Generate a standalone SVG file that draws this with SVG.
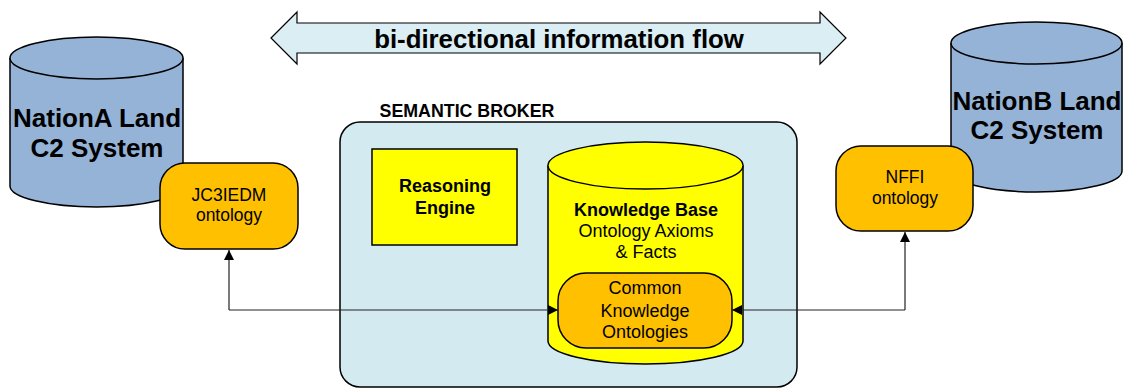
<svg xmlns="http://www.w3.org/2000/svg" width="1124" height="388" viewBox="0 0 1124 388">
<style>
text{font-family:"Liberation Sans",Arial,sans-serif;fill:#000;text-anchor:middle}
.b{font-weight:bold}
.sys{fill:#95B3D7;stroke:#000;stroke-width:1.5}
.ont{fill:#FFC000;stroke:#000;stroke-width:1.5}
.yel{fill:#FFFF00;stroke:#000;stroke-width:1.5}
.conn{fill:none;stroke:#222;stroke-width:1.2}
</style>
<defs>
<marker id="ah" viewBox="0 0 10 10" refX="10" refY="5" markerWidth="10" markerHeight="10" markerUnits="userSpaceOnUse" orient="auto">
<path d="M0,0 L10,5 L0,10 Z" fill="#000"/>
</marker>
</defs>
<g id="flow-arrow">
<path d="M271,38 L297,12 L297,23 L820,23 L820,12 L846,38 L820,64 L820,53 L297,53 L297,64 Z" fill="#DAEEF3" stroke="#000" stroke-width="1.2"/>
<text x="559" y="48" class="b" font-size="25.8">bi-directional information flow</text>
</g>
<g id="nationA">
<path class="sys" d="M10,58 A86.5,21 0 0,1 183,58 L183,186 A86.5,21 0 0,1 10,186 Z"/>
<path class="sys" fill="none" d="M10,58 A86.5,21 0 0,0 183,58"/>
<text x="97" y="127" class="b" font-size="26">NationA Land</text>
<text x="97" y="157" class="b" font-size="26">C2 System</text>
</g>
<g id="nationB">
<path class="sys" d="M951,43 A85.5,21 0 0,1 1122,43 L1122,171 A85.5,21 0 0,1 951,171 Z"/>
<path class="sys" fill="none" d="M951,43 A85.5,21 0 0,0 1122,43"/>
<text x="1037" y="110" class="b" font-size="26">NationB Land</text>
<text x="1037" y="139" class="b" font-size="26">C2 System</text>
</g>
<g id="jc3iedm">
<rect class="ont" x="160" y="163" width="138" height="86" rx="25"/>
<text x="229" y="201" font-size="17.5">JC3IEDM</text>
<text x="229" y="221" font-size="17.5">ontology</text>
</g>
<g id="nffi">
<rect class="ont" x="836" y="146" width="137" height="85" rx="25"/>
<text x="905" y="183" font-size="17.5">NFFI</text>
<text x="905" y="204" font-size="17.5">ontology</text>
</g>
<g id="semantic-broker">
<rect x="340" y="122" width="457" height="265" rx="20" fill="#D2EAF0" stroke="#000" stroke-width="1.5"/>
<text x="467" y="117" class="b" font-size="17.8">SEMANTIC BROKER</text>
</g>
<g id="reasoning-engine">
<rect class="yel" x="372" y="149" width="145" height="96"/>
<text x="445" y="192" class="b" font-size="18">Reasoning</text>
<text x="445" y="214" class="b" font-size="18">Engine</text>
</g>
<g id="knowledge-base">
<path class="yel" d="M548,165.5 A97.5,23.5 0 0,1 743,165.5 L743,341 A97.5,23 0 0,1 548,341 Z"/>
<path class="yel" fill="none" d="M548,165.5 A97.5,23.5 0 0,0 743,165.5"/>
<text x="646" y="216" class="b" font-size="18">Knowledge Base</text>
<text x="646" y="237" font-size="18">Ontology Axioms</text>
<text x="646" y="258" font-size="18">&amp; Facts</text>
</g>
<g id="common-knowledge">
<rect class="ont" x="558" y="273" width="174" height="75" rx="28"/>
<text x="645" y="294" font-size="18">Common</text>
<text x="645" y="317" font-size="18">Knowledge</text>
<text x="645" y="338" font-size="18">Ontologies</text>
</g>
<g id="connectors">
<path class="conn" d="M229,310 L229,250" marker-end="url(#ah)"/>
<path class="conn" d="M229,310 L558,310" marker-end="url(#ah)"/>
<path class="conn" d="M905,310 L905,232" marker-end="url(#ah)"/>
<path class="conn" d="M905,310 L732,310" marker-end="url(#ah)"/>
</g>
</svg>
